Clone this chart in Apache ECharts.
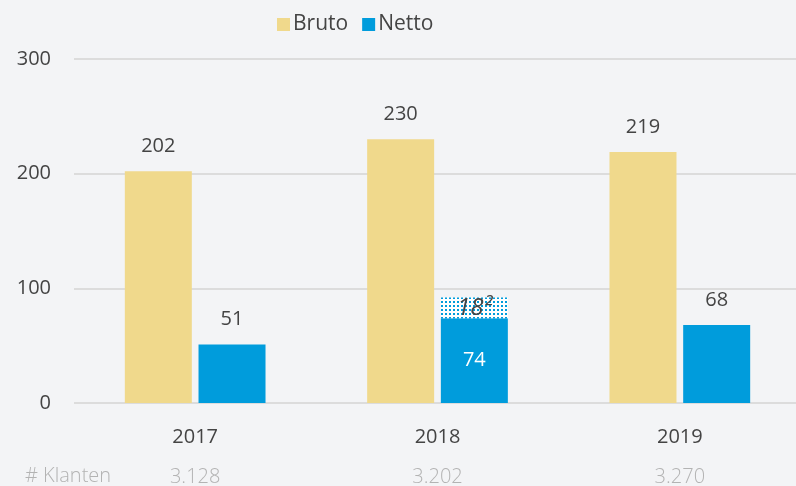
<!DOCTYPE html>
<html>
<head>
<meta charset="utf-8">
<script src="https://cdn.jsdelivr.net/npm/echarts@6/dist/echarts.min.js"></script>
<style>
  html, body { margin: 0; padding: 0; background: #f3f4f6; }
  #chart { width: 796px; height: 486px; }
</style>
</head>
<body>
<div id="chart"></div>
<script>
// data
const years = ['2017', '2018', '2019'];
const bruto = [202, 230, 219];
const netto = [51, 74, 68];
const nettoExtra = [null, 18, null];
const klanten = ['3.128', '3.202', '3.270'];

const font = '"Open Sans", "Noto Sans", sans-serif';

// dotted pattern for the extra part of 2018
const dots = document.createElement('canvas');
dots.width = 4;
dots.height = 4;
const dctx = dots.getContext('2d');
dctx.fillStyle = '#ffffff';
dctx.fillRect(0, 0, 4, 4);
dctx.fillStyle = '#009cdc';
dctx.fillRect(1, 1, 2, 2);

const chart = echarts.init(document.getElementById('chart'));

chart.setOption({
  backgroundColor: '#f3f4f6',
  textStyle: { fontFamily: font },
  animation: false,
  legend: {
    data: ['Bruto', 'Netto'],
    top: 9,
    left: 272,
    itemWidth: 13,
    itemHeight: 13,
    itemGap: 14,
    icon: 'rect',
    textStyle: { fontSize: 21, color: '#444', fontFamily: font, padding: [0, 0, 0, -2] }
  },
  grid: { left: 74, right: -5, top: 59, bottom: 83, outerBoundsMode: 'none', containLabel: false },
  xAxis: {
    type: 'category',
    data: years,
    axisLine: { show: false },
    axisTick: { show: false },
    axisLabel: {
      margin: 14,
      formatter: (v, i) => '{y|' + v + '}\n{k|' + klanten[i] + '}',
      rich: {
        y: { fontSize: 20, color: '#444', fontFamily: font, lineHeight: 40 },
        k: { fontSize: 20, color: '#b3b3b3', fontFamily: font, fontWeight: 300, lineHeight: 40 }
      }
    }
  },
  yAxis: {
    type: 'value',
    min: 0,
    max: 300,
    interval: 100,
    axisLabel: { fontSize: 20, color: '#444', margin: 23, fontFamily: font },
    splitLine: { lineStyle: { color: '#dcdcdc', width: 2 } }
  },
  graphic: [{
    type: 'text',
    left: 25,
    top: 466,
    style: { text: '# Klanten', fontSize: 20, fill: '#b3b3b3', fontFamily: font, fontWeight: 300 }
  }],
  series: [
    {
      name: 'Bruto',
      type: 'bar',
      data: bruto,
      barWidth: 67,
      barGap: '10%',
      itemStyle: { color: '#f0d98c' },
      label: { show: true, position: 'top', distance: 15, fontSize: 20, color: '#444', fontFamily: font }
    },
    {
      name: 'Netto',
      type: 'bar',
      stack: 'netto',
      data: netto.map((v, i) => i === 1
        ? { value: v, label: { position: 'inside', color: '#fff' } }
        : v),
      barWidth: 67,
      itemStyle: { color: '#009cdc' },
      label: { show: true, position: 'top', distance: 15, fontSize: 20, color: '#444', fontFamily: font }
    },
    {
      name: 'Netto extra',
      type: 'bar',
      stack: 'netto',
      data: nettoExtra,
      barWidth: 67,
      itemStyle: { color: { image: dots, repeat: 'repeat' } },
      label: {
        show: true,
        position: 'inside',
        formatter: p => p.value + '²',
        fontSize: 24,
        fontStyle: 'italic',
        color: '#444',
        fontFamily: font
      }
    }
  ]
});
</script>
</body>
</html>
